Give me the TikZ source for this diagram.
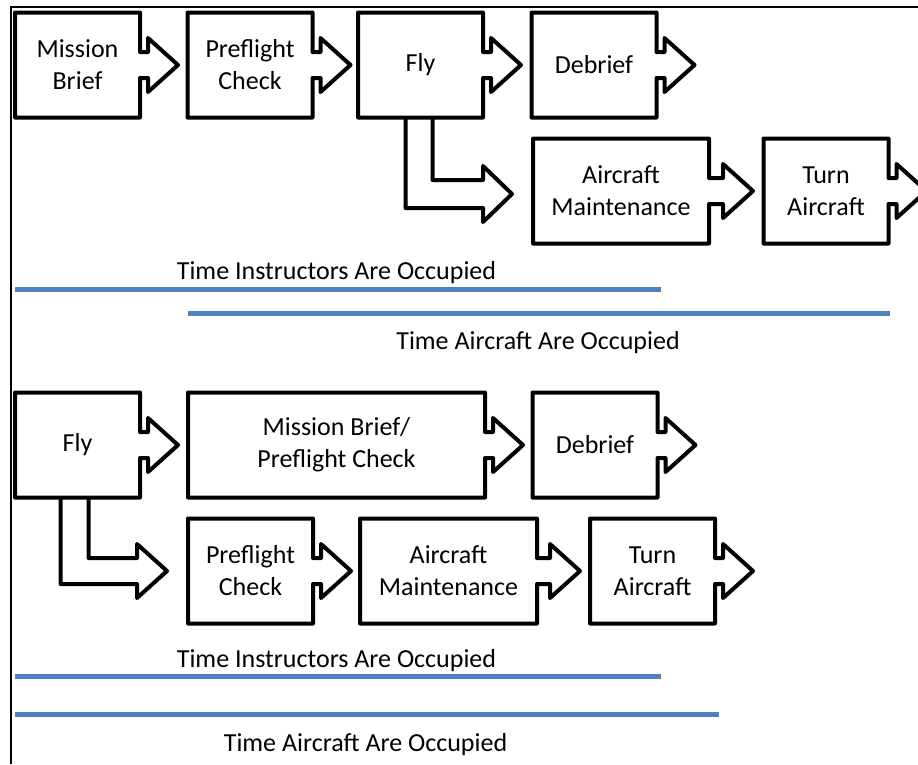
\documentclass[tikz,border=0pt]{standalone}
\usepackage{fontspec}
\setmainfont{Carlito}
\usetikzlibrary{calc}
\definecolor{barblue}{HTML}{4F81BD}
\tikzset{
  stage/.style={draw=none, inner sep=0pt, outer sep=0pt, minimum width=#1,
    minimum height=105pt, align=center, font=\fontsize{26}{32}\selectfont},
  stage/.default=125pt,
  outline/.style={draw=black, line width=4pt, line join=round},
  bar/.style={draw=barblue, line width=5pt},
  tlabel/.style={inner sep=0pt, anchor=base, font=\fontsize{26}{32}\selectfont},
  frame/.style={draw=black, line width=1.6pt}
}
% #1 node name, #2 shaft length
\newcommand{\stagearrow}[2]{%
  \draw[outline] (#1.north west) -- (#1.north east)
    -- ($(#1.east)+(0,-13)$) -- ($(#1.east)+(#2,-13)$)
    -- ($(#1.east)+(#2,-27)$) -- ($(#1.east)+(#2+30,0)$)
    -- ($(#1.east)+(#2,27)$) -- ($(#1.east)+(#2,13)$)
    -- ($(#1.east)+(0,13)$) -- (#1.south east) -- (#1.south west) -- cycle;}
\begin{document}
\begin{tikzpicture}[x=1pt,y=-1pt]
\useasboundingbox (0,0) rectangle (918,764);
\clip (0,0) rectangle (918,764);
% frame
\coordinate (fbl) at (11,764);
\coordinate (ftl) at (11,7);
\coordinate (ftr) at (918,7);
\draw[frame] (fbl) -- (ftl) -- (ftr);

% top scenario
\node[stage] (mb1) at (77.5,65) {Mission\\Brief};
\node[stage] (pc1) at (250,65) {Preflight\\Check};
\node[stage] (fly1) at (420.5,65) {Fly};
\node[stage] (db1) at (594,65) {Debrief};
\node[stage=176pt] (am1) at (621,191) {Aircraft\\Maintenance};
\node[stage] (ta1) at (826,191) {Turn\\Aircraft};
\stagearrow{mb1}{8}
\stagearrow{pc1}{8}
\stagearrow{fly1}{8}
\stagearrow{db1}{8}
\stagearrow{am1}{14}
\stagearrow{ta1}{8}
\draw[outline] ($(fly1.south)+(-15,0)$) |- ($(am1.west)+(-50,17)$)
  -- ($(am1.west)+(-50,31)$) -- ($(am1.west)+(-21,3)$)
  -- ($(am1.west)+(-50,-25)$) -- ($(am1.west)+(-50,-11)$)
  -| ($(fly1.south)+(12,0)$);

\node[tlabel] (til1) at (336.5,279) {Time Instructors Are Occupied};
\coordinate (i1a) at (15,289);
\coordinate (i1b) at (661,289);
\draw[bar] (i1a) -- (i1b);
\coordinate (a1a) at (188,313);
\coordinate (a1b) at (890,313);
\draw[bar] (a1a) -- (a1b);
\node[tlabel] (tal1) at (538,349) {Time Aircraft Are Occupied};

% bottom scenario
\node[stage] (fly2) at (77.5,445) {Fly};
\node[stage=297pt] (mp2) at (336.5,445) {Mission Brief/\\Preflight Check};
\node[stage] (db2) at (595,445) {Debrief};
\node[stage] (pc2) at (250.5,571) {Preflight\\Check};
\node[stage=177pt] (am2) at (448.5,571) {Aircraft\\Maintenance};
\node[stage] (ta2) at (652.5,571) {Turn\\Aircraft};
\stagearrow{fly2}{8}
\stagearrow{mp2}{8}
\stagearrow{db2}{8}
\stagearrow{pc2}{8}
\stagearrow{am2}{13}
\stagearrow{ta2}{8}
\draw[outline] ($(fly2.south)+(-17,0)$) |- ($(pc2.west)+(-51,13)$)
  -- ($(pc2.west)+(-51,27)$) -- ($(pc2.west)+(-21,0)$)
  -- ($(pc2.west)+(-51,-27)$) -- ($(pc2.west)+(-51,-13)$)
  -| ($(fly2.south)+(11,0)$);

\node[tlabel] (til2) at (336.5,667) {Time Instructors Are Occupied};
\coordinate (i2a) at (15,676);
\coordinate (i2b) at (661,676);
\draw[bar] (i2a) -- (i2b);
\coordinate (a2a) at (15,714);
\coordinate (a2b) at (719,714);
\draw[bar] (a2a) -- (a2b);
\node[tlabel] (tal2) at (365.5,751) {Time Aircraft Are Occupied};
\end{tikzpicture}
\end{document}
